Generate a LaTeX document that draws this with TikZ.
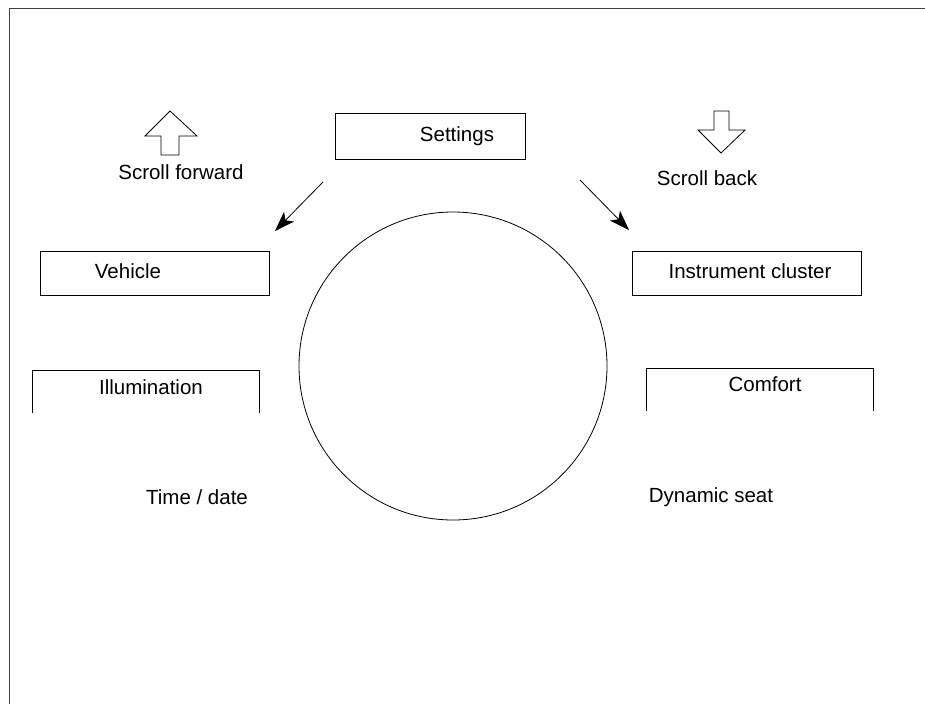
\documentclass[tikz,border=0pt]{standalone}
\usepackage{fontspec}
\setmainfont{Liberation Sans}
\usetikzlibrary{arrows.meta, positioning}

\begin{document}
\begin{tikzpicture}[x=1pt, y=-1pt, line width=0.8pt]
% Define styles
\tikzstyle{menubox} = [rectangle, draw=black, minimum width=229pt, minimum height=44pt, inner sep=0pt]
\tikzstyle{menutext} = [font=\fontsize{20.5}{24}\selectfont, inner sep=0pt, anchor=center]
\tikzstyle{pointer} = [-{Stealth[length=20pt, width=14pt, inset=5pt]}]

% Frame
\useasboundingbox (0,0) rectangle (925,704);
\draw[line width=1pt, black!75] (9,704) -- (9,8) -- (925,8);

% Nodes
\node (settings) [menubox, minimum width=190pt, minimum height=46pt] at (430,136) {};
\node (settingstext) [menutext] at (457,136) {Settings};
\node (vehicle) [menubox] at (154.5,273) {};
\node (vehicletext) [menutext] at (128,271) {Vehicle};
\node (cluster) [menubox] at (747,273) {};
\node (clustertext) [menutext] at (750,271) {Instrument cluster};
\node (wheel) [circle, draw=black, minimum size=308pt, inner sep=0pt] at (453,366) {};

% Open boxes
\draw (32,413) |- (259,370) -- (259,413);
\node (illumtext) [menutext] at (151,387) {Illumination};
\draw (646,411) |- (873,368) -- (873,411);
\node (comforttext) [menutext] at (765,384) {Comfort};

\node (timetext) [menutext] at (197,497) {Time / date};
\node (seattext) [menutext] at (711,497) {Dynamic seat};

% Scroll arrows
\draw (170,111) -- (197,136) -- (179,136) -- (179,155) -- (161,155) -- (161,136) -- (145,136) -- cycle;
\node (fwdtext) [menutext] at (181,172) {Scroll forward};
\draw (714,111) -- (729,111) -- (729,130) -- (745,130) -- (721,153) -- (698,130) -- (714,130) -- cycle;
\node (backtext) [menutext] at (707,178) {Scroll back};

% Pointers
\coordinate (leftstart) at (323,182);
\coordinate (leftend) at (275,231);
\coordinate (rightstart) at (580,180);
\coordinate (rightend) at (629,230);
\draw[pointer] (leftstart) -- (leftend);
\draw[pointer] (rightstart) -- (rightend);

\end{tikzpicture}
\end{document}
